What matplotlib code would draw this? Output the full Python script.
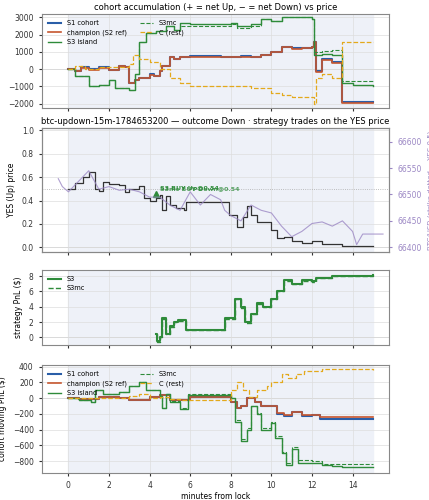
import matplotlib
matplotlib.use('Agg')
import matplotlib.pyplot as plt

# ---- data ----
acc_t = [0, 0.3, 0.6, 1, 1.5, 2, 2.5, 2.8, 3, 3.3, 3.5, 4, 4.2, 4.5, 4.6, 5, 5.2, 5.5, 6, 7, 7.5, 8, 8.5, 9, 9.5, 10, 10.5, 11, 11.5, 12, 12.1, 12.2, 12.5, 13, 13.5, 15]
acc_s1 = [0, -100, 100, 0, 100, -50, 200, 150, -800, -600, -500, -300, -400, -100, 200, 700, 600, 700, 750, 750, 700, 700, 750, 700, 850, 1000, 1300, 1200, 1250, 1300, 1600, -100, 600, 400, -1900, -1900]
acc_champ = [0, -120, 80, -20, 80, -70, 180, 130, -820, -620, -520, -320, -420, -120, 180, 680, 580, 680, 730, 730, 680, 680, 730, 680, 830, 980, 1280, 1180, 1230, 1280, 1560, -150, 560, 360, -1950, -1950]
acc_s3_t = [0, 0.3, 1, 1.5, 2, 2.3, 3, 3.3, 3.5, 3.8, 4.3, 4.8, 5.2, 5.5, 6, 8, 8.3, 9, 9.5, 10, 10.5, 12, 12.1, 12.5, 13, 13.5, 14, 15]
acc_s3 = [0, -400, -1000, -900, -600, -1100, -1200, -300, 1600, 2100, 2200, 2500, 2300, 2700, 2600, 2700, 2500, 2600, 2900, 2800, 3000, 2900, 800, 900, 800, -800, -900, -950]
acc_s3mc = [0, -400, -1000, -900, -600, -1100, -1200, -300, 1600, 2100, 2200, 2500, 2300, 2500, 2500, 2600, 2400, 2500, 2900, 2800, 3000, 2900, 1000, 1050, 1100, -700, -700, -700]
acc_c_t = [0, 0.3, 0.8, 1.5, 3, 3.2, 3.5, 4, 4.5, 5, 5.5, 6, 8, 9, 10, 10.5, 11, 12, 12.1, 12.2, 12.5, 13, 13.5, 15]
acc_c = [0, 200, 0, 100, 300, 800, 600, 400, 0, -500, -800, -1000, -1000, -1100, -1400, -1500, -1600, -1600, -2000, -500, -300, -500, 1600, 1600]

px_t = [0, 0.3, 0.7, 1, 1.3, 1.5, 1.7, 2, 2.5, 2.8, 3, 3.5, 3.7, 4, 4.3, 4.5, 4.6, 4.8, 5, 5.3, 5.7, 5.8, 7.6, 7.9, 8.3, 8.6, 8.8, 9, 9.3, 10, 10.3, 10.6, 11, 11.5, 12, 12.5, 13.5, 15]
px_yes = [0.5, 0.55, 0.6, 0.64, 0.5, 0.48, 0.56, 0.54, 0.53, 0.47, 0.5, 0.52, 0.42, 0.40, 0.42, 0.45, 0.32, 0.44, 0.36, 0.34, 0.32, 0.39, 0.39, 0.28, 0.17, 0.26, 0.35, 0.28, 0.22, 0.15, 0.08, 0.09, 0.05, 0.04, 0.05, 0.03, 0.01, 0.01]
btc_t = [-0.5, -0.3, 0, 0.5, 1, 1.5, 2, 2.5, 3, 3.5, 4, 4.5, 5, 5.5, 6, 6.5, 7, 7.5, 7.7, 8, 8.5, 9, 9.5, 10, 10.5, 11, 11.5, 12, 12.5, 13, 13.5, 14, 14.2, 14.5, 15.5]
btc = [66530, 66515, 66505, 66525, 66545, 66510, 66515, 66508, 66510, 66505, 66495, 66495, 66480, 66470, 66505, 66480, 66500, 66490, 66470, 66460, 66450, 66480, 66470, 66465, 66440, 66420, 66430, 66445, 66448, 66440, 66450, 66430, 66405, 66425, 66425]
strike_yes = 0.5
trade_t, trade_px = 4.3, 0.46

pnl_t = [4.3, 4.35, 4.5, 4.6, 4.8, 5, 5.2, 5.4, 5.8, 7.6, 7.7, 8, 8.2, 8.5, 8.7, 9, 9.3, 9.6, 10, 10.3, 10.6, 11, 11.5, 12, 12.2, 13, 14, 15]
pnl_s3 = [0.5, -0.5, 0, 2.5, 0.5, 1.5, 2, 2.3, 1, 1, 2.5, 2.5, 5, 4, 2, 3, 4.5, 4, 5, 6, 7.5, 7, 7.5, 7.3, 7.8, 8, 8, 8.2]
pnl_s3mc = [0.5, -0.6, 0, 2.4, 0.4, 1.4, 2, 2.2, 1, 1, 2.4, 2.4, 5, 3.9, 1.9, 3, 4.4, 4, 5, 6, 7.4, 7, 7.4, 7.2, 7.8, 8, 8, 8.1]

mv_t = [0, 0.5, 1.5, 2.5, 3, 3.5, 4, 4.5, 5, 5.5, 6, 7.5, 8, 8.3, 8.5, 8.8, 9.2, 9.5, 10, 10.3, 10.6, 11, 11.5, 12, 12.4, 15]
mv_s1 = [0, -10, 10, 0, -30, -20, 10, 40, -20, -30, 20, 20, -50, -130, -100, 0, -50, -100, -100, -200, -230, -180, -230, -220, -260, -260]
mv_champ = [0, -10, 10, 0, -30, -20, 10, 40, -20, -30, 20, 20, -50, -125, -95, 0, -45, -95, -95, -190, -220, -170, -220, -210, -245, -245]
mv_s3_t = [0, 0.5, 1.1, 1.3, 1.7, 2.5, 3, 3.5, 3.8, 4.5, 4.6, 4.8, 5, 5.5, 5.9, 7.7, 8, 8.2, 8.5, 8.8, 9, 9.3, 9.5, 10, 10.2, 10.5, 10.7, 11, 11.3, 12, 12.5, 13, 13.5, 15]
mv_s3 = [0, -30, -50, 100, 50, 80, 150, 200, 100, 30, -130, 50, -50, -140, 40, 40, 0, -300, -550, -400, -100, -200, -400, -320, -500, -700, -850, -650, -820, -820, -850, -860, -880, -880]
mv_s3mc = [0, -30, -50, 100, 50, 80, 150, 200, 100, 30, -120, 50, -40, -130, 50, 50, 0, -280, -520, -380, -100, -190, -380, -300, -480, -680, -820, -620, -790, -800, -830, -830, -840, -840]
mv_c_t = [0, 3, 3.5, 4, 4.5, 5, 5.5, 7.5, 8, 8.3, 8.6, 8.9, 9.3, 9.8, 10, 10.5, 10.8, 11.2, 11.6, 12, 12.5, 15]
mv_c = [0, 30, 50, 0, 10, -10, -30, -30, 100, 200, 100, 20, 100, 150, 200, 300, 250, 300, 350, 340, 370, 360]

BLUE = '#2a5ea8'
RED = '#c6562f'
GREEN = '#2e8b3a'
ORANGE = '#e3a91b'
PURPLE = '#9b87c4'

plt.rcParams['font.size'] = 5.5
plt.rcParams['axes.edgecolor'] = '#888888'
plt.rcParams['xtick.color'] = '#333333'
plt.rcParams['ytick.color'] = '#333333'
plt.rcParams['xtick.major.size'] = 2.5
plt.rcParams['ytick.major.size'] = 2.5

fig = plt.figure(figsize=(4.29, 5.0), dpi=100)
L, W = 0.098, 0.809
ax1 = fig.add_axes([L, 0.784, W, 0.188])
ax2 = fig.add_axes([L, 0.496, W, 0.248])
ax3 = fig.add_axes([L, 0.31, W, 0.15])
ax4 = fig.add_axes([L, 0.054, W, 0.216])

for ax in (ax1, ax2, ax3, ax4):
    ax.axvspan(0, 15, color='#eef1f8', zorder=0)
    ax.grid(color='#dddddd', lw=0.5, zorder=0.5)
    ax.set_xlim(-1.3, 15.8)
    ax.set_xticks([0, 2, 4, 6, 8, 10, 12, 14])
    ax.axhline(0, color='#cccccc', lw=0.6, zorder=0.6)
for ax in (ax1, ax2, ax3):
    ax.tick_params(labelbottom=False)

# panel 1
ax1.step(acc_t, acc_s1, where='post', color=BLUE, lw=1.5, label='S1 cohort')
ax1.step(acc_t, acc_champ, where='post', color=RED, lw=1.2, label='champion (S2 ref)')
ax1.step(acc_s3_t, acc_s3, where='post', color=GREEN, lw=1.0, label='S3 island')
ax1.step(acc_s3_t, acc_s3mc, where='post', color=GREEN, lw=0.8, ls='--', label='S3mc')
ax1.step(acc_c_t, acc_c, where='post', color=ORANGE, lw=0.9, ls='--', label='C (rest)')
ax1.set_ylim(-2250, 3200)
ax1.set_yticks([-2000, -1000, 0, 1000, 2000, 3000])
ax1.set_ylabel('acc. net YES (shares)')
ax1.set_title('cohort accumulation (+ = net Up, \u2212 = net Down) vs price', fontsize=6, pad=3)
ax1.legend(ncol=2, fontsize=4.8, frameon=False, loc='upper left')

# panel 2
ax2.axhline(strike_yes, color='#aaaaaa', lw=0.6, ls=':')
ax2.step(px_t, px_yes, where='post', color='#333333', lw=0.9)
ax2.plot(trade_t, trade_px, marker='^', color=GREEN, ms=5, ls='none')
ax2.text(trade_t + 0.2, trade_px + 0.03, 'S3 BUY Up@0.54', color=GREEN, fontsize=4.5, weight='bold')
ax2.text(trade_t + 0.2, trade_px + 0.03, 'S3mc BUY Down@0.54', color=GREEN, fontsize=4.5, weight='bold', alpha=0.8)
ax2.set_ylim(-0.04, 1.02)
ax2.set_ylabel('YES (Up) price')
ax2.set_title('btc-updown-15m-1784653200 \u2014 outcome Down \u00b7 strategy trades on the YES price', fontsize=6, pad=3)
tw = ax2.twinx()
tw.plot(btc_t, btc, color=PURPLE, lw=0.8, alpha=0.8)
tw.set_ylim(66391, 66626)
tw.set_yticks([66400, 66450, 66500, 66550, 66600])
tw.tick_params(colors=PURPLE)
tw.set_ylabel('BTC/USD (strike dotted = YES 0.5)', color=PURPLE, fontsize=5)

# panel 3
ax3.step(pnl_t, pnl_s3, where='post', color=GREEN, lw=1.5, label='S3')
ax3.step(pnl_t, pnl_s3mc, where='post', color=GREEN, lw=1.0, ls='--', label='S3mc')
ax3.set_ylim(-1, 8.8)
ax3.set_yticks([0, 2, 4, 6, 8])
ax3.set_ylabel('strategy PnL ($)')
ax3.legend(fontsize=4.8, frameon=False, loc='upper left')

# panel 4
ax4.step(mv_t, mv_s1, where='post', color=BLUE, lw=1.5, label='S1 cohort')
ax4.step(mv_t, mv_champ, where='post', color=RED, lw=1.2, label='champion (S2 ref)')
ax4.step(mv_s3_t, mv_s3, where='post', color=GREEN, lw=1.0, label='S3 island')
ax4.step(mv_s3_t, mv_s3mc, where='post', color=GREEN, lw=0.8, ls='--', label='S3mc')
ax4.step(mv_c_t, mv_c, where='post', color=ORANGE, lw=0.9, ls='--', label='C (rest)')
ax4.set_ylim(-950, 420)
ax4.set_yticks([-800, -600, -400, -200, 0, 200, 400])
ax4.set_ylabel('cohort moving PnL ($)')
ax4.set_xlabel('minutes from lock', labelpad=1)
ax4.legend(ncol=2, fontsize=4.8, frameon=False, loc='upper left')

fig.savefig('out.png', dpi=100)
